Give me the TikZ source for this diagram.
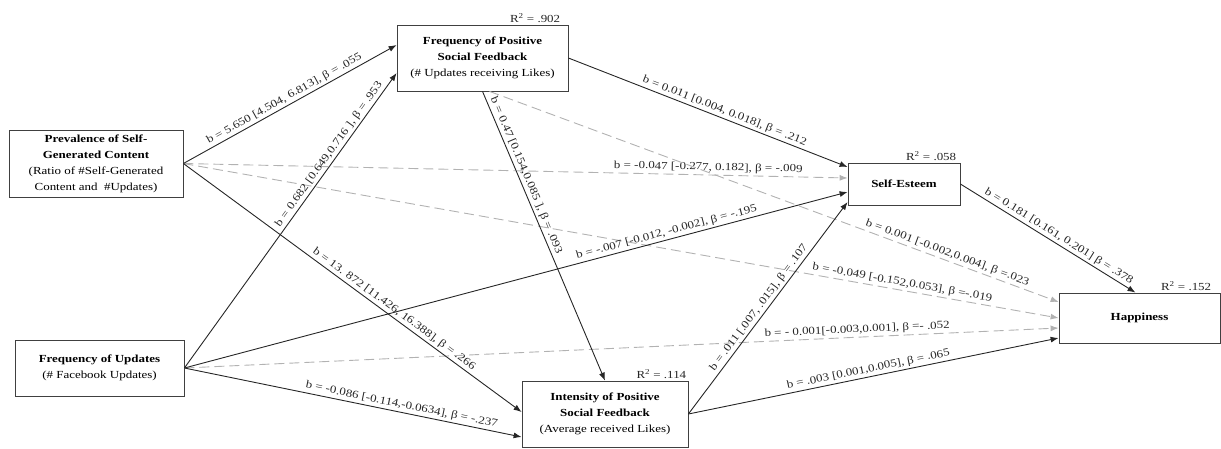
\documentclass[tikz,border=0pt]{standalone}
\usepackage{fontspec}
\setmainfont{Liberation Serif}[FakeStretch=1.2]
\usetikzlibrary{arrows.meta}

\begin{document}
\begin{tikzpicture}[x=1pt, y=-1pt,
    box/.style={draw=black!75, line width=0.8pt, align=center, inner sep=0pt, font=\fontsize{10.8}{16}\selectfont},
    arr/.style={draw=black!85, line width=0.9pt, -{Latex[length=8pt,width=6pt]}},
    darr/.style={arr, draw=black!30, dash pattern=on 10pt off 5pt},
    lbl/.style={sloped, above, inner sep=2pt, font=\fontsize{10.8}{13}\selectfont, text=black!85},
    rsq/.style={anchor=south east, inner sep=2pt, font=\fontsize{10.8}{13}\selectfont, text=black!85}]
    \useasboundingbox (0,0) rectangle (1221,448);

    % Draw boxes
    \node[box, minimum width=174pt, minimum height=67pt] (prev) at (96,163.5) {\textbf{Prevalence of Self-}\\\textbf{Generated Content}\\(Ratio of \#Self-Generated\\Content and \ \#Updates)};
    \node[box, minimum width=169pt, minimum height=56pt] (fou) at (99.5,368) {\textbf{Frequency of Updates}\\(\# Facebook Updates)};
    \node[box, minimum width=171pt, minimum height=66pt] (fpsf) at (482.5,58) {\textbf{Frequency of Positive}\\\textbf{Social Feedback}\\(\# Updates receiving Likes)};
    \node[box, minimum width=166pt, minimum height=66pt] (ipsf) at (605,414) {\textbf{Intensity of Positive}\\\textbf{Social Feedback}\\(Average received Likes)};
    \node[box, minimum width=112pt, minimum height=42pt] (se) at (904,184) {\textbf{Self-Esteem}};
    \node[box, minimum width=161pt, minimum height=50pt] (hap) at (1139.5,318) {\textbf{Happiness}};

    % Explained variance
    \node[rsq] (r1) at ([xshift=-6pt]fpsf.north east) {R\textsuperscript{2} = .902};
    \node[rsq] (r2) at (ipsf.north east) {R\textsuperscript{2} = .114};
    \node[rsq] (r3) at ([xshift=-2pt]se.north east) {R\textsuperscript{2} = .058};
    \node[rsq] (r4) at ([xshift=-7pt]hap.north east) {R\textsuperscript{2} = .152};

    % Non-significant paths
    \foreach \from/\fx/\to/\tx/\ty/\p/\txt in {
      prev.east/0/se.west/0/6/0.79/{b = -0.047 [-0.277, 0.182], β = -.009},
      prev.east/0/hap.west/0/0/0.82/{b = -0.049 [-0.152,0.053], β =-.019},
      fpsf.south/7/hap.west/0/16/0.8/{b = 0.001 [-0.002,0.004], β =.023},
      fou.east/0/hap.west/0/-10/0.77/{b = - 0.001[-0.003,0.001], β =- .052}} {
      \draw[darr] ([xshift=\fx pt]\from) -- node[lbl, pos=\p] {\txt} ([xshift=\tx pt, yshift=\ty pt]\to);
    }

    % Significant paths
    \foreach \from/\fx/\to/\tx/\ty/\p/\txt in {
      prev.east/0/fpsf.west/0/13/0.49/{b = 5.650 [4.504, 6.813], β = .055},
      fou.east/0/fpsf.west/0/-15/0.71/{b = 0.682 [0.649,0.716 ], β = .953},
      prev.east/0/ipsf.west/0/2/0.61/{b = 13. 872 [11.426, 16.388], β = .266},
      fou.east/0/se.west/0/-8/0.73/{b = -.007 [-0.012, -0.002], β = -.195},
      fou.east/0/ipsf.west/0/-23/0.64/{b = -0.086 [-0.114,-0.0634], β = -.237},
      fpsf.east/0/se.west/0/17/0.55/{b = 0.011 [0.004, 0.018], β = .212},
      fpsf.south/0/ipsf.north/0/0/0.3/{b = 0.47 [0.154,0.085 ], β = .093},
      ipsf.east/0/se.west/0/-18/0.48/{b = .011 [.007, .015], β = .107},
      ipsf.east/0/hap.west/0/-20/0.49/{b = .003 [0.001,0.005], β = .065},
      se.east/0/hap.north/-4/0/0.54/{b = 0.181 [0.161, 0.201] β = .378}} {
      \draw[arr] ([xshift=\fx pt]\from) -- node[lbl, pos=\p] {\txt} ([xshift=\tx pt, yshift=\ty pt]\to);
    }
\end{tikzpicture}
\end{document}
